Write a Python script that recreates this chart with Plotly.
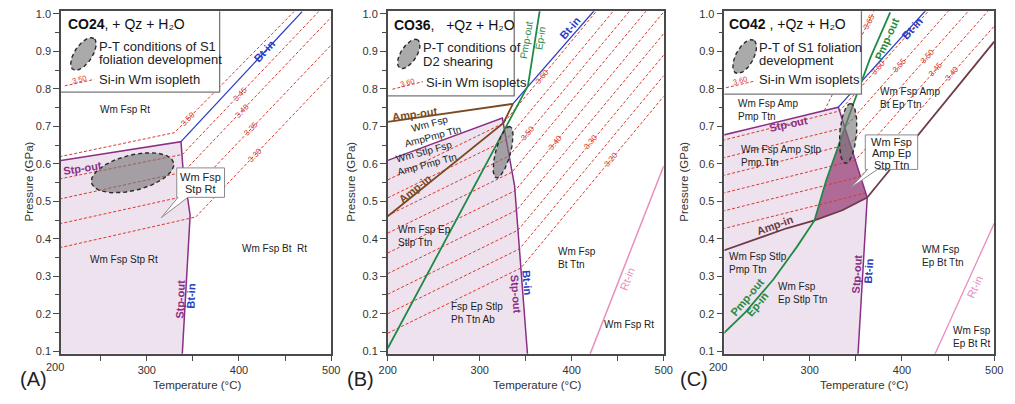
import numpy as np
import plotly.graph_objects as go

FONT = "Arial, Liberation Sans, sans-serif"
FIG_W, FIG_H = 1015, 404
PLOT_TOP_PX, PLOT_BOTTOM_PX = 7.5, 356.0
P_RANGE = [0.093, 1.0066]
P_FLOOR = 0.08
PANELS = {
    "A": {"x0": 53.0, "x1": 328.0, "t_range": [207.0, 500.0]},
    "B": {"x0": 385.6, "x1": 666.5, "t_range": [200.0, 500.0]},
    "C": {"x0": 728.3, "x1": 1003.0, "t_range": [207.4, 500.0]},
}
AXES = {"A": ("x", "y"), "B": ("x2", "y2"), "C": ("x3", "y3")}

LAVENDER = "#EEE2EF"
MAUVE = "#AF6A98"
PURPLE = "#8B2F86"
BLUE = "#2B3CC4"
GREEN = "#1F8A45"
BROWN = "#7A4B22"
MAROON = "#6E3B47"
PINK = "#E88DBF"
RED = "#D8392E"
INK = "#222222"
GRAY_FILL = "rgba(118,118,118,0.62)"

# ---------------- CO24 (A) ----------------
A_STP_T = [200, 337.1, 340.6, 344.2, 347.0, 338.2]
A_STP_P = [0.606, 0.659, 0.541, 0.510, 0.4625, 0.08]
A_BT_T = [337.1, 468.5]
A_BT_P = [0.659, 1.006]
A_ISO_NAMES = ["3.50", "3.45", "3.40", "3.35", "3.30"]
A_ISO_T = [[200, 329.9, 459.7], [200, 338.7, 486.4], [200, 339.8, 500],
           [200, 344.0, 500], [200, 353.1, 500]]
A_ISO_P = [[0.616, 0.683, 1.006], [0.557, 0.625, 1.006], [0.503, 0.578, 0.991],
           [0.437, 0.515, 0.917], [0.373, 0.458, 0.837]]
A_ISO_LABEL_T = [344.2, 401.0, 402.9, 413.5, 417.0]

# ---------------- CO36 (B) ----------------
B_STP_T = [200, 324.6, 337.9, 352.3]
B_STP_P = [0.609, 0.722, 0.541, 0.08]
B_AMP_OUT_T = [200, 336.0]
B_AMP_OUT_P = [0.712, 0.760]
B_AMP_IN_T = [200, 325.9, 336.0]
B_AMP_IN_P = [0.460, 0.709, 0.760]
B_BT_T = [336.0, 425.0]
B_BT_P = [0.760, 1.010]
B_PMP_T = [200, 352.4, 365.3]
B_PMP_P = [0.108, 0.808, 1.010]
B_RT_T = [418.0, 500]
B_RT_P = [0.08, 0.594]
B_ISO_NAMES = ["3.60", "3.55", "3.50", "3.45", "3.40", "3.35", "3.30", "3.25", "3.20"]
B_ISO_T = [[200, 325.6, 500], [200, 328.9, 500], [200, 332.0, 500], [200, 335.2, 500],
           [200, 338.3, 500], [200, 340.0, 500], [200, 341.6, 500], [200, 343.2, 500],
           [200, 344.8, 500]]
B_ISO_P = [[0.557, 0.708, 1.223], [0.509, 0.664, 1.169], [0.462, 0.621, 1.117],
           [0.415, 0.578, 1.064], [0.362, 0.528, 1.005], [0.307, 0.476, 0.947],
           [0.252, 0.423, 0.890], [0.200, 0.373, 0.835], [0.148, 0.322, 0.780]]
B_ISO_LABEL_T = [368.0, None, 352.1, None, 382.2, None, 421.4, None, 442.8]

# ---------------- CO42 (C) ----------------
C_STP_T = [200, 331.0, 362.3, 352.0]
C_STP_P = [0.673, 0.751, 0.510, 0.08]
C_BT_T = [331.0, 426.1]
C_BT_P = [0.751, 1.010]
C_PMP_T = [200, 230.6, 260.7, 286.2, 305.1, 317.6, 345.9, 365.5, 387.2]
C_PMP_P = [0.132, 0.205, 0.292, 0.379, 0.449, 0.554, 0.751, 0.882, 1.004]
C_AMP_IN_T = [200, 239.3, 274.9, 305.1, 335.3, 362.3]
C_AMP_IN_P = [0.363, 0.397, 0.428, 0.449, 0.476, 0.510]
C_AMP_HI_T = [362.3, 500]
C_AMP_HI_P = [0.510, 0.926]
C_RT_T = [433.5, 500]
C_RT_P = [0.08, 0.441]
C_EP_STP_T = [338.1, 317.6, 305.1, 335.3, 362.3]
C_EP_STP_P = [0.696, 0.554, 0.449, 0.476, 0.510]
C_ISO_NAMES = ["3.65", "3.60", "3.55", "3.50", "3.45", "3.40", "3.35"]
C_ISO_T = [[315.8, 369.5], [200, 332.4, 500], [200, 338.2, 500], [200, 343.8, 500],
           [200, 349.6, 500], [200, 355.2, 500], [200, 361.0]]
C_ISO_P = [[0.742, 1.0066], [0.659, 0.741, 1.205], [0.612, 0.697, 1.145],
           [0.565, 0.653, 1.085], [0.518, 0.610, 1.026], [0.470, 0.566, 0.967],
           [0.423, 0.522]]
C_ISO_LABEL_T = [363.7, 374.4, 397.5, 427.7, 436.5, 454.3, None]

# legend boxes: right edge T, bottom edge P
LEGEND_BOX = {"A": (379.0, 0.791), "B": (337.5, 0.781), "C": (356.0, 0.786)}

# P-T condition ellipses: centre T, centre P, semi-axes (px), tilt (deg)
PT_ELLIPSE = {"A": (284.6, 0.576, 43, 18, 14), "B": (325.4, 0.631, 27, 7.5, 75),
              "C": (341.6, 0.681, 30.5, 8.5, 85)}
KEY_ELLIPSE = {"A": (231.3, 0.893, 19, 9, 56), "B": (222.9, 0.893, 17, 8, 57),
               "C": (229.4, 0.886, 19, 9, 61)}

fig = go.Figure()


def scale(panel):
    spec = PANELS[panel]
    sx = (spec["x1"] - spec["x0"]) / (spec["t_range"][1] - spec["t_range"][0])
    sy = (PLOT_BOTTOM_PX - PLOT_TOP_PX) / (P_RANGE[1] - P_RANGE[0])
    return sx, sy


def line(panel, t, p, color, width=1.5, dash="solid"):
    xa, ya = AXES[panel]
    fig.add_trace(go.Scatter(x=t, y=p, mode="lines", xaxis=xa, yaxis=ya,
                             line=dict(color=color, width=width, dash=dash),
                             hoverinfo="skip", showlegend=False))


def area(panel, t, p, fill, edge=None, width=1.0, dash="solid"):
    xa, ya = AXES[panel]
    t, p = list(t), list(p)
    fig.add_trace(go.Scatter(x=t + [t[0]], y=p + [p[0]], mode="lines",
                             fill="toself", fillcolor=fill, xaxis=xa, yaxis=ya,
                             line=dict(color=edge or "rgba(0,0,0,0)", width=width, dash=dash),
                             hoverinfo="skip", showlegend=False))


def ellipse(panel, spec, n=90):
    tc, pc, a, b, ang = spec
    sx, sy = scale(panel)
    s = np.linspace(0, 2 * np.pi, n)
    th = np.radians(ang)
    u, v = a * np.cos(s), b * np.sin(s)
    dx = u * np.cos(th) - v * np.sin(th)
    dy = u * np.sin(th) + v * np.cos(th)
    area(panel, tc + dx / sx, pc + dy / sy, GRAY_FILL, "#2a2a2a", 1.4, "4px,3px")


def text(panel, s, t, p, size=10, color=INK, angle=0, bold=False, anchor="center"):
    xa, ya = AXES[panel]
    if bold:
        s = "<b>" + s + "</b>"
    fig.add_annotation(x=t, y=p, xref=xa, yref=ya, text=s, showarrow=False,
                       textangle=angle, xanchor=anchor, yanchor="middle",
                       align="left" if anchor == "left" else "center",
                       font=dict(family=FONT, size=size, color=color))


def paper_text(s, px, py, size, color="#333", angle=0):
    fig.add_annotation(x=px / FIG_W, y=1 - py / FIG_H, xref="paper", yref="paper",
                       text=s, showarrow=False, textangle=angle, xanchor="center",
                       yanchor="middle", font=dict(family=FONT, size=size, color=color))


def isopleths(panel, names, ts, ps, label_t, angle, first_angle=None):
    for t, p in zip(ts, ps):
        line(panel, t, p, RED, 1.0, "3px,2px")
    for i, (name, t, p, lt) in enumerate(zip(names, ts, ps, label_t)):
        if lt is None:
            continue
        ang = first_angle if (i == 0 and first_angle is not None) else angle
        text(panel, name, lt, float(np.interp(lt, t, p)), 8, RED, ang)


def bubble(panel, box_t, box_p, base_t, tip, lines_, line_t, line_p):
    t0, t1 = box_t
    p0, p1 = box_p
    area(panel, [t0, t1, t1, base_t[1], tip[0], base_t[0], t0],
         [p1, p1, p0, p0, tip[1], p0, p0], "white", "#8a8a8a", 1.0)
    for s, pp in zip(lines_, line_p):
        text(panel, s, line_t, pp, 11, "#222")


def legend_box(panel, title, lines_, key_label, key_t, key_p):
    t0 = PANELS[panel]["t_range"][0]
    tr, pb = LEGEND_BOX[panel]
    area(panel, [t0 - 10, tr, tr, t0 - 10], [pb, pb, 1.05, 1.05], "white", "#777777", 1.3)
    ellipse(panel, KEY_ELLIPSE[panel])
    line(panel, key_t, key_p, RED, 1.0, "3px,2px")
    text(panel, key_label, (key_t[0] + key_t[1]) / 2, (key_p[0] + key_p[1]) / 2 + 0.009,
         7.5, RED, -15)
    text(panel, title[0], title[1], title[2], 14, "#111", anchor="left")
    for s, t, p in lines_:
        text(panel, s, t, p, 13, "#222", anchor="left")


# ---------------- panel A: CO24 ----------------
area("A", [A_STP_T[0]] + A_STP_T, [P_FLOOR] + A_STP_P, LAVENDER)
isopleths("A", A_ISO_NAMES, A_ISO_T, A_ISO_P, A_ISO_LABEL_T, -46)
line("A", A_STP_T, A_STP_P, PURPLE, 1.5)
line("A", A_BT_T, A_BT_P, BLUE, 1.3)
ellipse("A", PT_ELLIPSE["A"])
bubble("A", (332.5, 384.3), (0.5105, 0.589), (333.9, 344.6), (315.8, 0.4565),
       ["Wm Fsp", "Stp Rt"], 358.4, [0.566, 0.532])
legend_box("A", ("<b>CO24</b>, + Qz + H₂O", 212.4, 0.974),
           [("P-T conditions of S1", 246.5, 0.913), ("foliation development", 246.5, 0.878),
            ("Si-in Wm isopleth", 245.7, 0.825)],
           "3.50", [211.0, 243.0], [0.808, 0.825])
text("A", "Wm Fsp Rt", 276.6, 0.746)
text("A", "Stp-out", 230.5, 0.589, 11, PURPLE, -9, True)
text("A", "Wm Fsp Stp Rt", 274.9, 0.345)
text("A", "Wm Fsp Bt  Rt", 438.4, 0.375)
text("A", "Stp-out", 336.0, 0.240, 11, PURPLE, -88, True)
text("A", "Bt-in", 347.7, 0.248, 11, BLUE, -88, True)
text("A", "Bt-in", 427.7, 0.900, 11, BLUE, -47, True)

# ---------------- panel B: CO36 ----------------
area("B", [B_STP_T[0]] + B_STP_T, [P_FLOOR] + B_STP_P, LAVENDER)
isopleths("B", B_ISO_NAMES, B_ISO_T, B_ISO_P, B_ISO_LABEL_T, -50)
line("B", B_STP_T, B_STP_P, PURPLE, 1.5)
line("B", B_AMP_OUT_T, B_AMP_OUT_P, BROWN, 1.8)
line("B", B_AMP_IN_T, B_AMP_IN_P, BROWN, 1.8)
line("B", B_BT_T, B_BT_P, BLUE, 1.3)
line("B", B_PMP_T, B_PMP_P, GREEN, 1.8)
line("B", B_RT_T, B_RT_P, PINK, 1.5)
ellipse("B", PT_ELLIPSE["B"])
legend_box("B", ("<b>CO36</b>,   +Qz + H₂O", 204.8, 0.971),
           [("P-T conditions of", 236.5, 0.911), ("D2 shearing", 236.5, 0.873),
            ("Si-in Wm isoplets", 239.3, 0.816)],
           "3.60", [205.1, 238.2], [0.799, 0.819])
text("B", "Amp-out", 229.3, 0.733, 11, BROWN, -8, True)
text("B", "Wm Fsp<br>AmpPmp Ttn", 247.5, 0.691, 10, INK, -15)
text("B", "Wm Stlp Fsp<br>Amp Pmp Ttn", 240.8, 0.615, 10, INK, -15)
text("B", "Amp-in", 229.3, 0.533, 11, BROWN, -39, True)
text("B", "Wm Fsp Ep<br>Stlp Ttn", 209.1, 0.407, anchor="left")
text("B", "Fsp Ep Stlp<br>Ph Ttn Ab", 266.7, 0.203, anchor="left")
text("B", "Stp-out", 339.6, 0.253, 11, PURPLE, 85.5, True)
text("B", "Bt-in", 352.0, 0.283, 11, BLUE, 85.5, True)
text("B", "Wm Fsp<br>Bt Ttn", 383.0, 0.349, anchor="left")
text("B", "Wm Fsp Rt", 462.3, 0.170)
text("B", "Rt-in", 460.6, 0.292, 11, PINK, -68.5)
text("B", "Pmp-out", 350.2, 0.930, 10, GREEN, -81)
text("B", "Ep-in", 365.9, 0.934, 10, GREEN, -81)
text("B", "Bt-in", 398.3, 0.961, 11, BLUE, -49, True)

# ---------------- panel C: CO42 ----------------
area("C", [C_STP_T[0]] + C_STP_T, [P_FLOOR] + C_STP_P, LAVENDER)
area("C", C_EP_STP_T, C_EP_STP_P, MAUVE)
isopleths("C", C_ISO_NAMES, C_ISO_T, C_ISO_P, C_ISO_LABEL_T, -48, -63)
line("C", C_STP_T, C_STP_P, PURPLE, 1.5)
line("C", C_BT_T, C_BT_P, BLUE, 1.3)
line("C", C_AMP_IN_T, C_AMP_IN_P, MAROON, 1.8)
line("C", C_AMP_HI_T, C_AMP_HI_P, MAROON, 1.8)
line("C", C_PMP_T, C_PMP_P, GREEN, 1.8)
line("C", C_RT_T, C_RT_P, PINK, 1.3)
ellipse("C", PT_ELLIPSE["C"])
bubble("C", (360.2, 417.0), (0.585, 0.677), (362.7, 373.3), (344.5, 0.536),
       ["Wm Fsp", "Amp Ep", "Stp Ttn"], 388.6, [0.659, 0.628, 0.598])
legend_box("C", ("<b>CO42</b> , +Qz + H₂O", 210.2, 0.974),
           [("P-T of S1 foliation", 243.0, 0.910), ("development", 243.0, 0.875),
            ("Si-in Wm isoplets", 243.0, 0.824)],
           "3.60", [209.2, 241.1], [0.803, 0.821])
text("C", "Wm Fsp Amp<br>Pmp Ttn", 219.8, 0.744, anchor="left")
text("C", "Stp-out", 276.6, 0.707, 11, PURPLE, -12, True)
text("C", "Wm Fsp Amp Stlp<br>Pmp Ttn", 223.3, 0.620, anchor="left")
text("C", "Wm Fsp Amp<br>Bt Ep Ttn", 373.7, 0.776, anchor="left")
text("C", "Amp-in", 262.5, 0.436, 11, MAROON, -20, True)
text("C", "Wm Fsp Stlp<br>Pmp Ttn", 210.2, 0.336, anchor="left")
text("C", "Wm Fsp<br>Ep Stlp Ttn", 263.5, 0.255, anchor="left")
text("C", "Pmp-out", 232.3, 0.244, 11, GREEN, -50, True)
text("C", "Ep-in", 242.9, 0.227, 11, GREEN, -50, True)
text("C", "Stp-out", 351.3, 0.305, 11, PURPLE, -86.5, True)
text("C", "Bt-in", 363.7, 0.314, 11, BLUE, -86.5, True)
text("C", "Bt-in", 411.6, 0.961, 11, BLUE, -48, True)
text("C", "Pmp-out", 383.2, 0.934, 11, GREEN, -66, True)
text("C", "WM Fsp<br>Ep Bt Ttn", 419.9, 0.354, anchor="left")
text("C", "Wm Fsp<br>Ep Bt Rt", 453.6, 0.137, anchor="left")
text("C", "Rt-in", 479.2, 0.270, 11, PINK, -65)

# ---------------- axes ----------------
Y_TICKS = [round(0.1 * k, 1) for k in range(1, 11)]
Y_MINOR = [round(0.05 + 0.1 * k, 2) for k in range(0, 10)]
X_MINOR = [250, 350, 450]
layout = {}
for i, key in enumerate("ABC"):
    spec = PANELS[key]
    suffix = "" if i == 0 else str(i + 1)
    xt = [200, 300, 400, 500] if key == "B" else [300, 400, 500]
    layout["xaxis" + suffix] = dict(
        domain=[spec["x0"] / FIG_W, spec["x1"] / FIG_W], range=spec["t_range"],
        anchor="y" + suffix, showgrid=False, zeroline=False, showline=True, mirror=True,
        linecolor="#4a4a4a", linewidth=1.5, ticks="outside", ticklen=5, tickwidth=1,
        tickcolor="#4a4a4a", tickvals=xt, ticktext=[str(v) for v in xt],
        minor=dict(tickvals=X_MINOR, ticks="outside", ticklen=5, tickcolor="#4a4a4a"),
        tickfont=dict(family=FONT, size=11, color="#333"), fixedrange=True)
    layout["yaxis" + suffix] = dict(
        domain=[1 - PLOT_BOTTOM_PX / FIG_H, 1 - PLOT_TOP_PX / FIG_H], range=P_RANGE,
        anchor="x" + suffix, showgrid=False, zeroline=False, showline=True, mirror=True,
        linecolor="#4a4a4a", linewidth=1.5, ticks="outside", ticklen=6, tickwidth=1,
        tickcolor="#4a4a4a", tickvals=Y_TICKS, ticktext=["%.1f" % v for v in Y_TICKS],
        minor=dict(tickvals=Y_MINOR, ticks="outside", ticklen=4, tickcolor="#4a4a4a"),
        tickfont=dict(family=FONT, size=11, color="#333"), fixedrange=True)

fig.update_layout(width=FIG_W, height=FIG_H, autosize=False,
                  margin=dict(l=0, r=0, t=0, b=0),
                  paper_bgcolor="white", plot_bgcolor="white",
                  showlegend=False, hovermode=False, **layout)

# outer labels
paper_text("200", 46.4, 369, 11)
paper_text("200", 721.4, 369, 11)
for px in (20, 348, 687):
    paper_text("Pressure (GPa)", px, 181, 11.5, angle=-90)
for px in (191.7, 538.0, 870.0):
    paper_text("Temperature (°C)", px, 388, 11.5)
for s, px in (("(A)", 25), ("(B)", 358), ("(C)", 697)):
    paper_text(s, px, 381.7, 20, "#222")

fig.write_html("out.html")
